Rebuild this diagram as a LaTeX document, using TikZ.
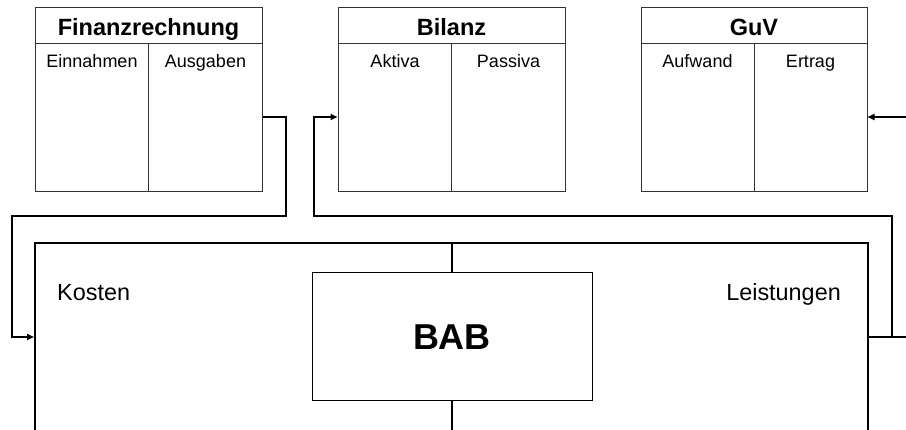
\documentclass[tikz,border=0pt]{standalone}
\usepackage{fontspec}
\setmainfont{Liberation Sans}
\usetikzlibrary{calc,arrows.meta}
\begin{document}
\begin{tikzpicture}[x=1pt,y=-1pt,
  acct/.style={draw=black!80, line width=1pt, minimum width=227pt, minimum height=184pt, inner sep=0pt},
  rulebox/.style={draw=black!80, line width=1pt},
  ttl/.style={font=\fontsize{23.5}{28}\selectfont\bfseries, anchor=base, inner sep=0pt},
  sub/.style={font=\fontsize{18}{22}\selectfont, anchor=base, inner sep=0pt},
  lbl/.style={font=\fontsize{23.4}{28}\selectfont, inner sep=0pt},
  conn/.style={line width=2pt, draw=black},
  arr/.style={conn, -{Triangle[length=7pt,width=6pt]}},
]
\useasboundingbox (0,0) rectangle (906,430);
\clip (0,0) rectangle (906,430);

% account boxes
\node[acct] (fin) at (148.5,100) {};
\node[acct] (bil) at (451.5,100) {};
\node[acct, minimum width=226pt] (guv) at (754,100) {};
\foreach \b in {fin,bil,guv}{
  \draw[rulebox] ([yshift=-36pt]\b.north west) -- ([yshift=-36pt]\b.north east);
  \draw[rulebox] ([yshift=-36pt]\b.north) -- (\b.south);
}
\node[ttl] (tfin) at (148.5,36) {Finanzrechnung};
\node[ttl] (tbil) at (451.5,36) {Bilanz};
\node[ttl] (tguv) at (754,36) {GuV};
\node[sub] (s1) at (92,68) {Einnahmen};
\node[sub] (s2) at (205.5,68) {Ausgaben};
\node[sub] (s3) at (395,68) {Aktiva};
\node[sub] (s4) at (508.5,68) {Passiva};
\node[sub] (s5) at (697.5,68) {Aufwand};
\node[sub] (s6) at (810.5,68) {Ertrag};

% big box and BAB
\node[draw=black, line width=2pt, minimum width=833pt, minimum height=260pt, inner sep=0pt] (big) at (451.5,373) {};
\node[draw=black, line width=1pt, minimum width=280pt, minimum height=128pt, inner sep=0pt,
      font=\fontsize{36}{40}\selectfont\bfseries] (bab) at (452,337) {BAB};
\node[lbl, anchor=base west] (kosten) at (57,301) {Kosten};
\node[lbl, anchor=base east] (leist) at (841,301) {Leistungen};

% connectors
\coordinate (c1) at (286,216);
\coordinate (c2) at (12,337);
\coordinate (c3) at (892,337);
\coordinate (c4) at (314,216);
\coordinate (c5) at (930,117);
\coordinate (ya) at (0,117);

\draw[arr] (fin.east |- ya) -| (c1) -| (c2) -- (big.west |- c2);
\draw[arr] (big.east |- c3) -- (c3) |- (c4) |- (bil.west |- ya);
\draw[arr] (c3) -- (c3 -| c5) -- (c5) -- (guv.east |- c5);
\draw[conn] (big.north -| bab.north) -- (bab.north);
\draw[conn] (bab.south) -- (bab.south |- big.south);
\end{tikzpicture}
\end{document}
